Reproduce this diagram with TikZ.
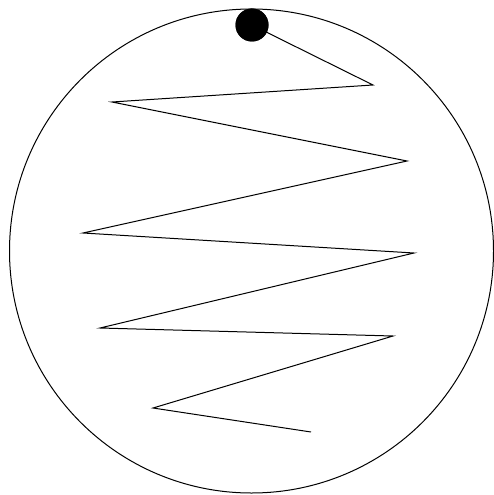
\documentclass[tikz,border=0pt]{standalone}
\begin{document}
\begin{tikzpicture}[x=1pt,y=-1pt,
  ring/.style={draw=black,line width=1pt,circle,minimum size=484pt,inner sep=0pt},
  bead/.style={fill=black,circle,minimum size=33pt,inner sep=0pt},
  zig/.style={draw=black,line width=1pt,line join=miter}]
\useasboundingbox (0,0) rectangle (494,495);
\node[ring] (outer) at (251.5,251) {};
\node[bead] (dot) at (252,25) {};
\coordinate (p1) at (373,85);
\coordinate (p2) at (112,102);
\coordinate (p3) at (407,161);
\coordinate (p4) at (83,233);
\coordinate (p5) at (414,253);
\coordinate (p6) at (100,328);
\coordinate (p7) at (393,336);
\coordinate (p8) at (153,408);
\coordinate (p9) at (311,432);
\draw[zig] (dot.center) -- (p1) -- (p2) -- (p3) -- (p4) -- (p5) -- (p6) -- (p7) -- (p8) -- (p9);
\node[bead] at (dot) {};
\end{tikzpicture}
\end{document}
